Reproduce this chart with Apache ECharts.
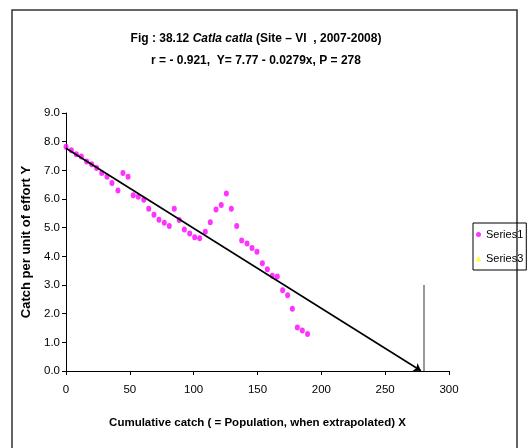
<!DOCTYPE html>
<html>
<head>
<meta charset="utf-8">
<script src="https://cdn.jsdelivr.net/npm/echarts@6/dist/echarts.min.js"></script>
<style>
html,body{margin:0;padding:0;background:#fff;}
#chart{width:529px;height:448px;}
</style>
</head>
<body>
<div id="chart"></div>
<script>
// Observed data (Series1)
var xVals = [0,4.2,8.1,12.0,16.2,20.1,24.0,28.0,32.1,36.0,40.7,44.6,48.6,52.7,56.6,60.9,64.8,68.9,72.8,77.0,80.9,84.8,88.7,92.7,96.9,100.8,104.7,109.1,113.0,117.5,121.6,125.6,129.5,133.7,137.6,141.8,145.7,149.6,153.8,157.7,161.6,165.5,169.7,173.6,177.3,181.2,185.1,189.2];
var yVals = [7.82,7.70,7.56,7.48,7.31,7.21,7.08,6.91,6.78,6.56,6.30,6.91,6.78,6.13,6.08,5.97,5.66,5.45,5.28,5.17,5.06,5.66,5.27,4.94,4.80,4.67,4.63,4.86,5.19,5.63,5.79,6.19,5.66,5.06,4.55,4.45,4.29,4.16,3.76,3.55,3.32,3.30,2.82,2.64,2.17,1.52,1.41,1.29];
// Series3 (legend only)
var series3Vals = [];
// Regression line Y = 7.77 - 0.0279x, extrapolated to P = 278
var regX = [0, 278];
var regY = [7.77, 0.01];
// Vertical marker at population estimate
var pLineX = [280, 280];
var pLineY = [0, 3.0];
// Axis ticks
var xTicks = [0, 50, 100, 150, 200, 250, 300];
var yTicks = [0, 1, 2, 3, 4, 5, 6, 7, 8, 9];

var FONT = "'Liberation Sans',Arial,sans-serif";
var pts = xVals.map(function(x, i){ return [x, yVals[i]]; });

var chart = echarts.init(document.getElementById('chart'), null, {renderer:'canvas'});
chart.setOption({
  animation: false,
  backgroundColor: '#fff',
  graphic: [{
    type: 'rect',
    shape: {x: 12, y: 10, width: 505, height: 440},
    style: {fill: 'none', stroke: '#333', lineWidth: 1.5},
    silent: true, z: -1
  }],
  title: {
    left: 251, top: 23, textAlign: 'center',
    text: '{b|Fig : 38.12 }{i|Catla catla}{b| (Site – VI  , 2007-2008)}\n{b|r = - 0.921,  Y= 7.77 - 0.0279x, P = 278}',
    textStyle: {
      fontFamily: FONT, fontSize: 12, fontWeight: 'bold', color: '#000', lineHeight: 22,
      rich: {
        b: {fontFamily: FONT, fontSize: 12, fontWeight: 'bold', color: '#000', lineHeight: 22},
        i: {fontFamily: FONT, fontSize: 12, fontWeight: 'bold', fontStyle: 'italic', color: '#000', lineHeight: 22}
      }
    }
  },
  legend: {
    orient: 'vertical',
    left: 473, top: 223,
    data: [
      {name: 'Series1', icon: 'circle'},
      {name: 'Series3', icon: 'triangle'}
    ],
    itemWidth: 5, itemHeight: 6, itemGap: 13,
    padding: [6, 3, 6, 3],
    borderColor: '#000', borderWidth: 1,
    textStyle: {fontFamily: FONT, fontSize: 11, color: '#000'}
  },
  grid: {left: 66, right: 80, top: 113, bottom: 77},
  xAxis: {
    type: 'value', min: 0, max: 300, interval: 50,
    name: 'Cumulative catch ( = Population, when extrapolated) X',
    nameLocation: 'middle', nameGap: 46,
    nameTextStyle: {fontFamily: FONT, fontSize: 11.5, fontWeight: 'bold', color: '#000'},
    axisLine: {lineStyle: {color: '#000', width: 1}},
    axisTick: {show: true, length: 4, lineStyle: {color: '#000'}},
    axisLabel: {fontFamily: FONT, fontSize: 11.5, color: '#000', margin: 13},
    splitLine: {show: false}
  },
  yAxis: {
    type: 'value', min: 0, max: 9, interval: 1,
    name: 'Catch per unit of effort Y',
    nameLocation: 'middle', nameGap: 25,
    nameTextStyle: {fontFamily: FONT, fontSize: 13, fontWeight: 'bold', color: '#000'},
    axisLine: {show: true, lineStyle: {color: '#000', width: 1}},
    axisTick: {show: true, length: 4, lineStyle: {color: '#000'}},
    axisLabel: {fontFamily: FONT, fontSize: 11.5, color: '#000', margin: 6,
      formatter: function(v){ return v.toFixed(1); }},
    splitLine: {show: false}
  },
  series: [
    {
      name: 'Series1', type: 'scatter', data: pts,
      symbol: 'circle', symbolSize: [5, 6],
      itemStyle: {color: '#FF00FF'}, z: 3
    },
    {
      name: 'Series3', type: 'scatter', data: series3Vals,
      symbol: 'triangle', symbolSize: 7,
      itemStyle: {color: '#FFFF00'},
      markLine: {
        silent: true, animation: false,
        label: {show: false},
        data: [
          [
            {coord: [regX[0], regY[0]], symbol: 'none', lineStyle: {color: '#000', width: 1.6, type: 'solid'}},
            {coord: [regX[1], regY[1]], symbol: 'arrow', symbolSize: 7}
          ],
          [
            {coord: [pLineX[0], pLineY[0]], symbol: 'none', lineStyle: {color: '#808080', width: 1.6, type: 'solid'}},
            {coord: [pLineX[1], pLineY[1]], symbol: 'none'}
          ]
        ]
      }
    }
  ]
});
</script>
</body>
</html>
